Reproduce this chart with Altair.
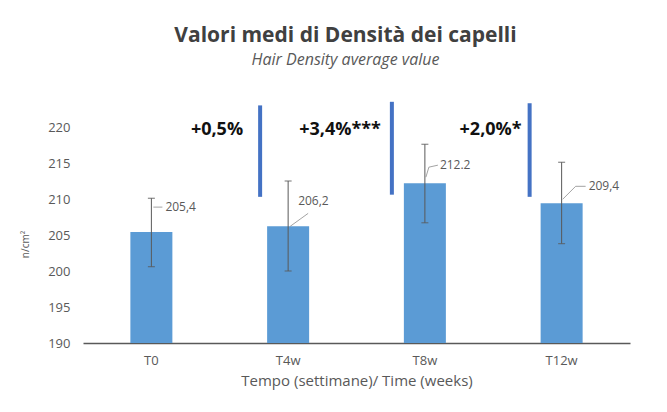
import altair as alt
import pandas as pd

# ---- data ----
categories = ["T0", "T4w", "T8w", "T12w"]
means = [205.4, 206.2, 212.2, 209.4]
err_low = [200.6, 200.0, 206.7, 203.8]
err_high = [210.1, 212.5, 217.6, 215.1]
value_labels = ["205,4", "206,2", "212.2", "209,4"]

sig_categories = ["T4w", "T8w", "T12w"]
sig_labels = ["+0,5%", "+3,4%***", "+2,0%*"]
sig_top = [223.0, 223.5, 223.3]
sig_bottom = [210.3, 210.6, 210.3]
sig_label_y = [219.6, 219.6, 219.6]

y_ticks = [190, 195, 200, 205, 210, 215, 220]

FONT = "Open Sans"
BAR = "#5B9BD5"
SIG = "#4472C4"
GREY = "#595959"

df = pd.DataFrame({
    "cat": categories, "mean": means, "lo": err_low, "hi": err_high,
    "lab": value_labels,
})
sig = pd.DataFrame({
    "cat": sig_categories, "lab": sig_labels, "top": sig_top,
    "bottom": sig_bottom, "ly": sig_label_y,
})

xscale = alt.Scale(domain=categories, paddingInner=0, paddingOuter=0)
yscale = alt.Scale(domain=[190, 220])

xaxis = alt.Axis(title="Tempo (settimane)/ Time (weeks)", labelAngle=0,
                 ticks=False, labelPadding=11, labelFontSize=13,
                 labelColor=GREY, titleColor=GREY, titleFontSize=15,
                 titleFontWeight="normal", titlePadding=6,
                 domainColor=GREY, domainWidth=1.5, labelFont=FONT,
                 titleFont=FONT, grid=False)
yaxis = alt.Axis(title="n/cm²", values=y_ticks,
                 domain=False, ticks=False, grid=False, labelPadding=13,
                 labelFontSize=13, labelColor=GREY, titleColor=GREY,
                 titleFontSize=10, titleFontWeight="normal",
                 titleX=-53, titleY=117, labelFont=FONT, titleFont=FONT)


def xenc():
    return alt.X("cat:N", scale=xscale, sort=categories, axis=xaxis)


def yenc(field):
    return alt.Y(field, scale=yscale, axis=yaxis)


base = alt.Chart(df)

bars = base.mark_bar(size=42, color=BAR).encode(
    x=xenc(), y=yenc("mean:Q"), y2=alt.datum(190))

err = base.mark_rule(color=GREY, strokeWidth=1).encode(
    x=xenc(), y=yenc("lo:Q"), y2="hi:Q")
cap_hi = base.mark_tick(color=GREY, size=7, thickness=1.2).encode(
    x=xenc(), y=yenc("hi:Q"))
cap_lo = base.mark_tick(color=GREY, size=7, thickness=1.2).encode(
    x=xenc(), y=yenc("lo:Q"))

# per-bar callout style (pixel offsets of label & leader relative to bar top)
callouts = {
    "T0": dict(dx=14, dy=-25, segs=[(2, -25, 11, -25)]),
    "T4w": dict(dx=10, dy=-25, segs=[(2, 0, 20, -13)]),
    "T8w": dict(dx=15, dy=-18, segs=[(1, -6, 4, -16), (4, -16, 13, -18)]),
    "T12w": dict(dx=27, dy=-17, segs=[(1, -4, 14, -17), (14, -17, 24, -17)]),
}
layers = [bars, err, cap_hi, cap_lo]
for c in categories:
    st = callouts[c]
    sub = alt.Chart(df).transform_filter(alt.datum.cat == c)
    layers.append(sub.mark_text(align="left", baseline="middle", dx=st["dx"],
                                dy=st["dy"], fontSize=12, color=GREY, font=FONT)
                  .encode(x=xenc(), y=yenc("mean:Q"), text="lab:N"))
    for (x1, y1, x2, y2) in st["segs"]:
        layers.append(sub.mark_rule(color="#8c8c8c", strokeWidth=0.8,
                                    xOffset=x1, x2Offset=x2, yOffset=y1, y2Offset=y2)
                      .encode(x=xenc(), x2="cat:N",
                              y=yenc("mean:Q"), y2="mean:Q"))

sig_offsets = {"T4w": (-28, -17), "T8w": (-33, -11), "T12w": (-32, -8)}
for c in sig_categories:
    off, gap = sig_offsets[c]
    sub = alt.Chart(sig).transform_filter(alt.datum.cat == c)
    layers.append(sub.mark_rule(color=SIG, strokeWidth=4, xOffset=off)
                  .encode(x=xenc(), y=yenc("top:Q"), y2="bottom:Q"))
    layers.append(sub.mark_text(align="right", baseline="middle", dx=off + gap,
                                fontSize=18, fontWeight="bold", color="#111111",
                                font=FONT)
                  .encode(x=xenc(), y=yenc("ly:Q"), text="lab:N"))

chart = alt.layer(*layers).properties(
    width=547, height=216, background="white",
    title=alt.TitleParams(
        text="Valori medi di Densità dei capelli",
        subtitle="Hair Density average value",
        anchor="middle", frame="group", dx=-11, offset=32, fontSize=21,
        font=FONT, fontWeight="bold", color="#404040", subtitleFont=FONT,
        subtitleFontSize=16, subtitleFontStyle="italic", subtitleColor=GREY,
        subtitlePadding=6),
    autosize=alt.AutoSizeParams(type="none"),
    padding={"left": 75, "top": 119, "right": 21, "bottom": 60},
).configure_view(stroke=None)

chart.save("out.html", embed_options={"renderer": "svg", "actions": False})
